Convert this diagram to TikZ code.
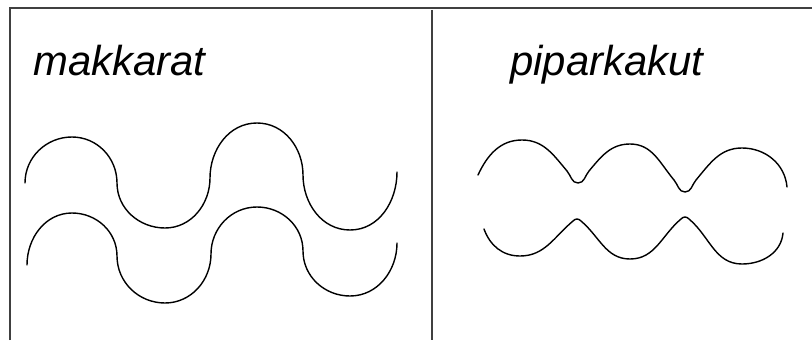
\documentclass[tikz,border=0pt]{standalone}
\usepackage{fontspec}
\setmainfont{Liberation Sans}
\usepackage{tikz}

\begin{document}
\begin{tikzpicture}[
  x=1bp, y=1bp,
  frameline/.style={draw=black!75, line width=2.2bp},
  wave/.style={draw=black, line width=1.4bp, line join=round, line cap=round},
  title/.style={anchor=base west, inner sep=0pt, font=\fontsize{42}{42}\selectfont\itshape}]
\useasboundingbox (0,0) rectangle (812,340);
% frame
\coordinate (tl) at (10,332);
\coordinate (tr) at (812,332);
\coordinate (bl) at (10,0);
\coordinate (mt) at (432,330);
\coordinate (mb) at (432,0);
\draw[frameline] (bl) -- (tl) -- (tr);
\draw[frameline] (mt) -- (mb);
% labels
\node[title] (makk) at (33,265) {makkarat};
\node[title] (pipa) at (510,265) {piparkakut};
% makkarat
\draw[wave] (25,157) to[out=90,in=180] (72,203) to[out=0,in=90] (117,157)
  to[out=-90,in=180] (165,112) to[out=0,in=-90] (210,162)
  to[out=90,in=180] (257,217) to[out=0,in=90] (303,165)
  to[out=-90,in=180] (350,110) to[out=0,in=-90] (397,168);
\draw[wave] (27,75) to[out=90,in=180] (72,127) to[out=0,in=90] (117,84)
  to[out=-90,in=180] (165,37) to[out=0,in=-90] (211,86)
  to[out=90,in=180] (257,133) to[out=0,in=90] (303,89)
  to[out=-90,in=180] (350,44) to[out=0,in=-90] (397,97);
% piparkakut
\draw[wave] (478,165) to[out=65,in=180] (522,200) to[out=0,in=130] (567,169)
  to[out=-50,in=180] (578,157) to[out=0,in=-130] (589,169)
  to[out=50,in=180] (630,196) to[out=0,in=130] (674,160)
  to[out=-50,in=180] (685,148) to[out=0,in=-130] (696,160)
  to[out=50,in=180] (742,192) to[out=0,in=95] (787,153);
\draw[wave] (484,111) to[out=-70,in=180] (520,84) to[out=0,in=-140] (573,119)
  to[out=40,in=180] (577,121) to[out=0,in=140] (581,119)
  to[out=-40,in=180] (630,81) to[out=0,in=-140] (681,121)
  to[out=40,in=180] (685,123) to[out=0,in=140] (689,121)
  to[out=-40,in=180] (742,76) to[out=0,in=-95] (783,107);
\end{tikzpicture}
\end{document}
